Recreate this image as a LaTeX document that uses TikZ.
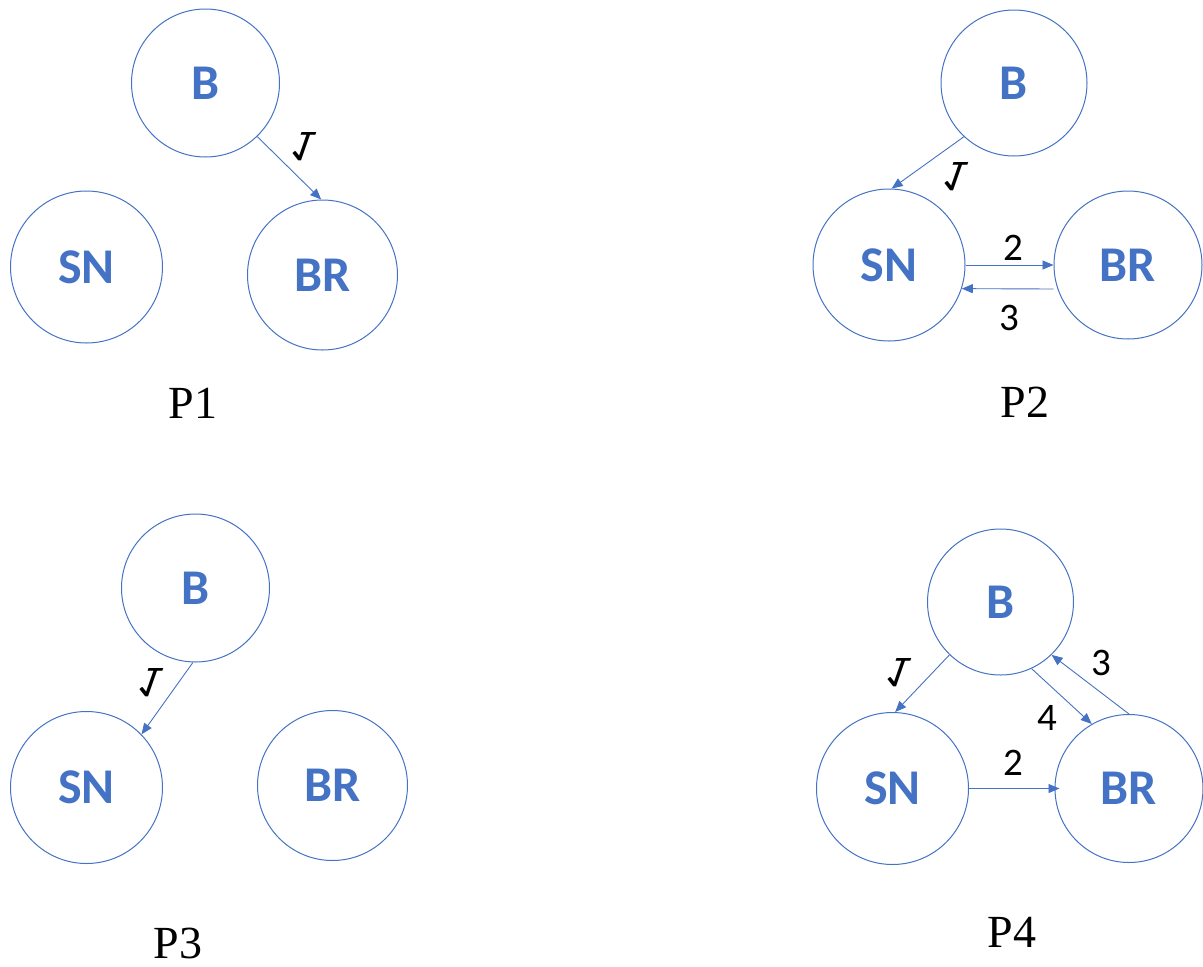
\documentclass[tikz,border=0pt]{standalone}
\usepackage{fontspec}
\setmainfont{Liberation Serif}
\newfontfamily\calib{Carlito}
\usetikzlibrary{arrows.meta}
\definecolor{nblue}{HTML}{4472C4}
\begin{document}
\begin{tikzpicture}[x=1pt,y=-1pt,
  state/.style={circle, draw=nblue, line width=1pt, minimum size=#1, inner sep=0pt,
    text=nblue, font=\calib\bfseries\fontsize{50}{50}\selectfont},
  state/.default=150pt,
  conn/.style={draw=nblue, line width=0.9pt, -{Triangle[length=11pt,width=9pt]}},
  num/.style={inner sep=0pt, text=black, font=\calib\fontsize{39}{39}\selectfont},
  flipone/.style={inner sep=0pt, text=black, font=\calib\fontsize{44}{44}\selectfont,
    yscale=-1, xslant=-0.35, transform shape},
  plabel/.style={inner sep=0pt, text=black, font=\fontsize{46}{46}\selectfont}]
\useasboundingbox (0,0) rectangle (1203,967);

% ---------- P1 ----------
\node[state=148pt] (B1) at (205.5,83) {B};
\node[state=152pt] (SN1) at (86.5,267) {SN};
\node[state=150pt] (BR1) at (322.5,275) {BR};
\draw[conn] (B1.-46) -- (BR1.91);
\begin{scope}[shift={(303,147)}]\node[flipone] (l11) at (0,0) {1};\end{scope}
\node[plabel] (P1) at (193,403) {P1};

% ---------- P2 ----------
\node[state=146pt] (B2) at (1014,83) {B};
\node[state=152pt] (SN2) at (889,265) {SN};
\node[state=148pt] (BR2) at (1128,265) {BR};
\draw[conn] (B2.-133) -- (SN2.88);
\draw[conn] (SN2.east) -- (BR2.west);
\draw[conn] ([yshift=-24pt]BR2.west) -- (SN2.-18);
\begin{scope}[shift={(955,177)}]\node[flipone] (l21) at (0,0) {1};\end{scope}
\node[num] (l22) at (1013,248) {2};
\node[num] (l23) at (1009,318) {3};
\node[plabel] (P2) at (1025,402) {P2};

% ---------- P3 ----------
\node[state=148pt] (B3) at (195.5,588) {B};
\node[state=152pt] (SN3) at (86.5,787.5) {SN};
\node[state=150pt] (BR3) at (332.5,785.5) {BR};
\draw[conn] (B3.-92) -- (SN3.44.5);
\begin{scope}[shift={(150,683)}]\node[flipone] (l31) at (0,0) {1};\end{scope}
\node[plabel] (P3) at (178,943) {P3};

% ---------- P4 ----------
\node[state=146pt] (B4) at (1000.5,602) {B};
\node[state=152pt] (SN4) at (892.5,788.5) {SN};
\node[state=148pt] (BR4) at (1129,788.5) {BR};
\draw[conn] (B4.-134) -- (SN4.88);
\draw[conn] (B4.-65) -- (BR4.120.5);
\draw[conn] (BR4.90) -- (B4.-46);
\draw[conn, shorten >=-5pt] (SN4.east) -- (BR4.west);
\begin{scope}[shift={(898,673)}]\node[flipone] (l41) at (0,0) {1};\end{scope}
\node[num] (l44) at (1047,718) {4};
\node[num] (l43) at (1101,663) {3};
\node[num] (l42) at (1013,763) {2};
\node[plabel] (P4) at (1012,932) {P4};
\end{tikzpicture}
\end{document}
